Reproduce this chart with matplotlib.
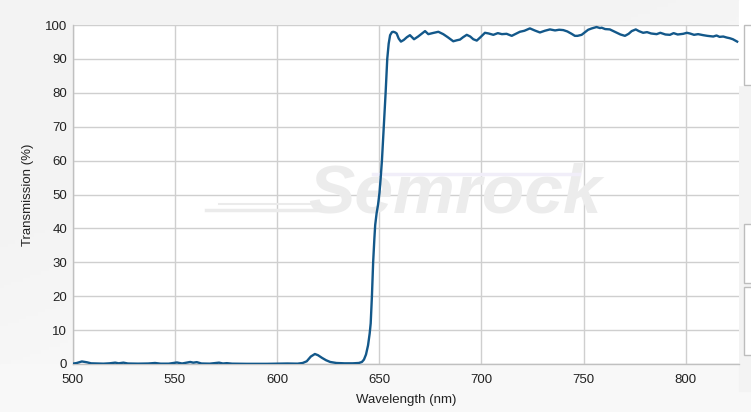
import numpy as np
import matplotlib
matplotlib.use("Agg")
import matplotlib.pyplot as plt
from matplotlib.patches import Rectangle

wavelength = [500, 502, 504.5, 507, 509, 512, 515, 518, 520.8, 522.5, 524.8, 527, 532, 537,
              540.3, 543, 547, 551, 553.5, 557.5, 559, 560.7, 563, 567, 571.6, 573.5, 575.4,
              578, 585, 595, 600, 605, 610, 612.5, 614.5, 616.5, 618.5, 620, 622, 624, 626,
              629, 633, 637, 640, 641.5, 642.5, 643.5, 644.5, 645.3, 645.8, 646.4, 647,
              647.6, 648, 648.7, 649.4, 650.1, 650.7, 651.3, 652.2, 653.1, 653.9, 654.6,
              655.3, 656.2, 656.9, 657.8, 658.5, 659.5, 660.6, 662, 663.5, 665, 667, 669,
              670.5, 672.4, 674, 676, 678.9, 681.3, 683.5, 686.2, 688, 689.5, 691, 692.8,
              694.5, 696, 697.7, 699.5, 701.7, 703.5, 705.8, 708, 710, 712.3, 714.8, 716.5,
              718.8, 721, 723.7, 726, 728.6, 731, 733.5, 736, 738, 740, 742, 744.1, 745.7,
              747, 749, 750.5, 752.2, 754, 756.3, 758, 758.8, 760.5, 762.8, 764.5, 766.1,
              768, 770.2, 772, 773.5, 775.5, 777, 779.1, 781, 783, 785.7, 787.5, 790, 792.2,
              794, 796, 798.7, 800.5, 802, 804, 806, 808.5, 810.5, 813.4, 815, 816.5, 818.3,
              820, 821.5, 823, 825.1]
transmission = [0.1, 0.3, 0.75, 0.5, 0.2, 0.15, 0.1, 0.2, 0.4, 0.2, 0.4, 0.15, 0.1, 0.15,
                0.3, 0.1, 0.1, 0.45, 0.15, 0.6, 0.4, 0.55, 0.15, 0.1, 0.4, 0.15, 0.25,
                0.1, 0.05, 0.05, 0.1, 0.15, 0.1, 0.3, 0.8, 2.2, 2.95, 2.6, 1.8, 1.1, 0.6,
                0.3, 0.2, 0.2, 0.3, 0.6, 1.3, 2.8, 5.5, 9, 12, 20, 30,
                37, 41, 44.5, 47, 50.5, 55, 60, 70, 80, 90, 94.5,
                97, 97.9, 98.0, 97.8, 97.5, 96, 95.1, 95.6, 96.4, 97.0, 95.8, 96.6,
                97.3, 98.2, 97.3, 97.6, 98.0, 97.3, 96.4, 95.2, 95.5, 95.7, 96.4, 97.1,
                96.6, 95.8, 95.4, 96.4, 97.7, 97.5, 97.1, 97.6, 97.3, 97.4, 96.8, 97.3,
                98.0, 98.3, 99.0, 98.4, 97.8, 98.3, 98.7, 98.4, 98.6, 98.5, 98.1, 97.4, 96.8,
                96.8, 97.1, 97.8, 98.6, 99.0, 99.4, 99.1, 99.2, 98.8, 98.7, 98.2, 97.7,
                97.2, 96.8, 97.4, 98.2, 98.7, 98.2, 97.7, 97.9, 97.5, 97.3, 97.7, 97.2, 97.1,
                97.6, 97.2, 97.4, 97.7, 97.5, 97.1, 97.3, 97.0, 96.8, 96.6, 96.9, 96.5, 96.6,
                96.3, 96.1, 95.8, 95.1]

x_ticks = [500, 550, 600, 650, 700, 750, 800]
y_ticks = [0, 10, 20, 30, 40, 50, 60, 70, 80, 90, 100]
x_label = "Wavelength (nm)"
y_label = "Transmission (%)"
watermark = "Semrock"

plt.rcParams['font.family'] = ['Liberation Sans', 'DejaVu Sans']

W, H = 751, 412
fig = plt.figure(figsize=(W / 100, H / 100), dpi=100)
fig.patch.set_facecolor('white')

# background gradient
bg = fig.add_axes([0, 0, 1, 1], zorder=-10)
gx, gy = np.meshgrid(np.linspace(0, 1, 200), np.linspace(0, 1, 120))
val = np.clip((1 - gx) * 0.6 + (1 - gy) * 0.9, 0, 1)
img = 1 - 0.045 * val
bg.imshow(np.dstack([img, img, img]), extent=[0, 1, 0, 1], origin='upper', aspect='auto')
bg.set_axis_off()
bg.add_patch(Rectangle((0, 0), 1, 48 / H, color='#f8f8f8', zorder=1))
bg.add_patch(Rectangle((739 / W, 0.05), 1, 1, color='#f3f3f3', zorder=1))
bg.add_patch(Rectangle((739 / W, (H - 85) / H), 1, 85 / H, color='white', zorder=2))
for top, bot in [(25, 85), (224, 283), (287, 355)]:
    bg.add_patch(Rectangle((743.5 / W, (H - bot) / H), 0.05, (bot - top) / H,
                           facecolor='white', edgecolor='#bdbdbd', lw=1, zorder=3))
bg.set_xlim(0, 1)
bg.set_ylim(0, 1)

left, right, top, bottom = 72.7, 739, 25, 364
ax = fig.add_axes([left / W, (H - bottom) / H, (right - left) / W, (bottom - top) / H])
ax.set_facecolor('white')
ax.set_xlim(500, 826)
ax.set_ylim(0, 100)
ax.set_xticks(x_ticks)
ax.set_yticks(y_ticks)
ax.grid(True, color='#cfcfcf', lw=1)
ax.set_axisbelow(True)
ax.tick_params(axis='x', length=0, labelsize=9.5, colors='#222222', pad=7)
ax.tick_params(axis='y', length=0, labelsize=9.5, colors='#222222', pad=4)
for s in ['top', 'right']:
    ax.spines[s].set_visible(False)
for s in ['left', 'bottom']:
    ax.spines[s].set_color('#c0c0c0')
    ax.spines[s].set_linewidth(1)

# watermark
ax.text(0.574, 0.5, watermark, transform=ax.transAxes, ha='center', va='center',
        fontsize=50, fontweight='bold', fontstyle='italic', color='#ececec', zorder=1)
ax.plot([0.2, 0.37], [0.455, 0.455], transform=ax.transAxes, color='#ebebeb', lw=2.5, zorder=1)
ax.plot([0.22, 0.37], [0.472, 0.472], transform=ax.transAxes, color='#ebebeb', lw=1.5, zorder=1)
ax.plot([0.45, 0.76], [0.56, 0.56], transform=ax.transAxes, color='#f1eef9', lw=2.5, zorder=1)

ax.plot(wavelength, transmission, color='#13588a', lw=1.7, zorder=3)

ax.set_xlabel(x_label, fontsize=9.5, color='#222222', labelpad=6)
ax.set_ylabel(y_label, fontsize=9.5, color='#222222', labelpad=8)

fig.savefig('out.png', dpi=100)
